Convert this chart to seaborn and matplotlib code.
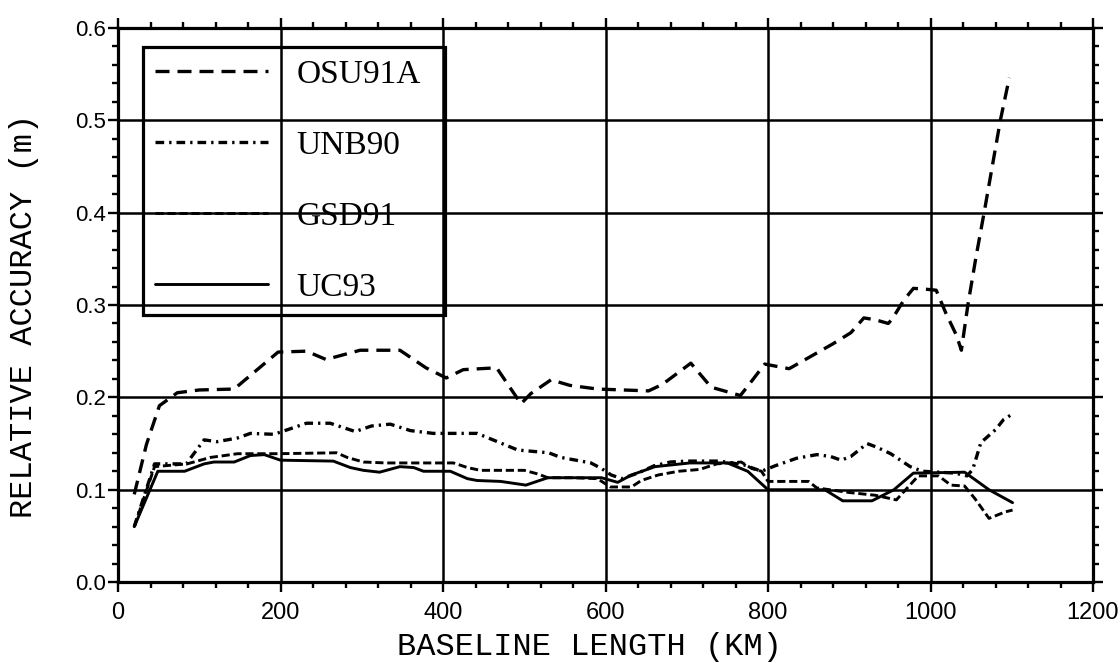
import matplotlib
matplotlib.use("Agg")
import matplotlib.pyplot as plt
from matplotlib.ticker import MultipleLocator, FormatStrFormatter
import seaborn as sns
import pandas as pd

# ---- data ----
osu_km = [20, 35, 51, 73, 100, 143, 197, 232, 256, 298, 347, 379, 404, 425, 466, 496, 508, 533, 556, 590,
          653, 670, 705, 730, 766, 775, 796, 826, 862, 880, 902, 918, 932, 948, 953, 967, 979, 995, 1007,
          1019, 1032, 1038, 1046, 1056, 1066, 1076, 1086, 1097]
osu_acc = [0.095, 0.149, 0.191, 0.205, 0.208, 0.209, 0.249, 0.250, 0.241, 0.251, 0.251, 0.232, 0.221, 0.230,
           0.232, 0.193, 0.204, 0.219, 0.213, 0.209, 0.207, 0.214, 0.237, 0.211, 0.202, 0.212, 0.236, 0.231,
           0.249, 0.258, 0.270, 0.286, 0.284, 0.280, 0.285, 0.305, 0.318, 0.317, 0.316, 0.291, 0.267, 0.251,
           0.300, 0.352, 0.400, 0.450, 0.500, 0.546]

unb_km = [20, 45, 84, 106, 122, 147, 163, 192, 212, 232, 261, 292, 312, 335, 360, 388, 413, 442, 467, 492,
          530, 545, 582, 595, 607, 620, 640, 660, 680, 700, 740, 770, 792, 809, 835, 860, 877, 890, 902, 922,
          934, 951, 963, 975, 990, 1030, 1045, 1052, 1062, 1080, 1090, 1101]
unb_acc = [0.060, 0.128, 0.128, 0.154, 0.152, 0.156, 0.161, 0.160, 0.166, 0.172, 0.172, 0.163, 0.169, 0.171,
           0.164, 0.161, 0.161, 0.161, 0.152, 0.143, 0.140, 0.135, 0.129, 0.123, 0.116, 0.112, 0.118, 0.126,
           0.130, 0.131, 0.131, 0.127, 0.120, 0.126, 0.134, 0.138, 0.136, 0.132, 0.136, 0.150, 0.146, 0.139,
           0.132, 0.125, 0.120, 0.118, 0.115, 0.122, 0.151, 0.165, 0.176, 0.182]

gsd_km = [20, 45, 85, 114, 131, 147, 196, 269, 282, 302, 330, 413, 430, 446, 500, 517, 529, 560, 590, 606,
          632, 644, 665, 690, 716, 737, 767, 780, 792, 800, 850, 860, 900, 932, 958, 985, 1010, 1025, 1042,
          1055, 1072, 1092, 1101]
gsd_acc = [0.060, 0.125, 0.128, 0.135, 0.137, 0.139, 0.139, 0.140, 0.135, 0.130, 0.129, 0.129, 0.124, 0.121,
           0.121, 0.117, 0.113, 0.113, 0.112, 0.103, 0.103, 0.110, 0.116, 0.120, 0.122, 0.128, 0.130, 0.123,
           0.120, 0.109, 0.109, 0.102, 0.097, 0.094, 0.089, 0.115, 0.115, 0.105, 0.104, 0.090, 0.069, 0.076,
           0.078]

uc_km = [20, 49, 82, 106, 118, 143, 163, 180, 200, 265, 286, 302, 322, 347, 364, 376, 409, 430, 442, 471,
         502, 529, 595, 615, 632, 661, 704, 750, 775, 800, 870, 892, 928, 955, 979, 1042, 1072, 1101]
uc_acc = [0.060, 0.120, 0.120, 0.128, 0.130, 0.130, 0.137, 0.138, 0.132, 0.131, 0.124, 0.121, 0.119, 0.125,
          0.124, 0.120, 0.120, 0.112, 0.110, 0.109, 0.105, 0.113, 0.113, 0.108, 0.116, 0.125, 0.129, 0.129,
          0.120, 0.100, 0.100, 0.088, 0.088, 0.100, 0.118, 0.119, 0.100, 0.086]

series_names = ["OSU91A", "UNB90", "GSD91", "UC93"]
x_ticks = [0, 200, 400, 600, 800, 1000, 1200]
y_ticks = [0.0, 0.1, 0.2, 0.3, 0.4, 0.5, 0.6]
x_label = "BASELINE LENGTH (KM)"
y_label = "RELATIVE ACCURACY (m)"

# ---- styling ----
sns.set_theme(style="ticks")
plt.rcParams["font.family"] = ["Liberation Sans", "DejaVu Sans"]

fig = plt.figure(figsize=(11.2, 6.63), dpi=100)
left, right, bottom, top = 118 / 1120, 1093 / 1120, 0.122, 0.958
ax = fig.add_axes([left, bottom, right - left, top - bottom])

data = {
    "OSU91A": (osu_km, osu_acc, dict(lw=2.4, linestyle=(0, (4.2, 2.4)))),
    "UNB90": (unb_km, unb_acc, dict(lw=2.4, linestyle=(0, (2.6, 1.5, 0.7, 1.5)))),
    "GSD91": (gsd_km, gsd_acc, dict(lw=2.1, linestyle=(0, (2.8, 1.3)))),
    "UC93": (uc_km, uc_acc, dict(lw=2.1, linestyle="-")),
}
for name in series_names:
    xs, ys, kw = data[name]
    df = pd.DataFrame({"km": xs, "acc": ys})
    sns.lineplot(data=df, x="km", y="acc", ax=ax, color="black", sort=False,
                 estimator=None, label=name, zorder=3, **kw)

ax.set_xlim(0, 1200)
ax.set_ylim(0, 0.6)
ax.set_xticks(x_ticks)
ax.set_yticks(y_ticks)
ax.xaxis.set_minor_locator(MultipleLocator(40))
ax.yaxis.set_minor_locator(MultipleLocator(0.02))
ax.yaxis.set_major_formatter(FormatStrFormatter("%.1f"))
ax.grid(True, which="major", color="black", lw=1.8)
ax.set_axisbelow(True)
for s in ax.spines.values():
    s.set_linewidth(2.3)
    s.set_color("black")
ax.tick_params(which="both", direction="out", top=True, right=True,
               labeltop=False, labelright=False, color="black", width=1.7)
ax.tick_params(which="major", length=7)
ax.tick_params(which="minor", length=4.5)
ax.tick_params(axis="x", which="major", labelsize=17, pad=7, labelcolor="black")
ax.tick_params(axis="y", which="major", labelsize=16, pad=1.5, labelcolor="black")

mono = ["Liberation Mono", "DejaVu Sans Mono"]
ax.set_xlabel(x_label, family=mono, fontsize=23, color="black")
ax.set_ylabel(y_label, family=mono, fontsize=23, color="black")
ax.xaxis.label.set_verticalalignment("baseline")
ax.yaxis.label.set_verticalalignment("baseline")
ax.xaxis.set_label_coords(0.484, -0.131)
ax.yaxis.set_label_coords(-0.088, 0.48)

ax_w = (right - left) * 1120
ax_h = (top - bottom) * 663
leg_x0 = (143 - 118) / ax_w
leg_w = (445 - 143) / ax_w
leg_top = (582 - 47) / ax_h
leg = ax.legend(loc="upper left", bbox_to_anchor=(leg_x0, 0.0, leg_w, leg_top), mode="expand",
                borderaxespad=0, prop={"family": ["Liberation Serif", "DejaVu Serif"], "size": 24},
                handlelength=3.4, handletextpad=0.85, labelspacing=1.22, borderpad=0.36,
                frameon=True, fancybox=False)
frame = leg.get_frame()
frame.set_facecolor("none")
frame.set_edgecolor("black")
frame.set_linewidth(2.3)
frame.set_alpha(None)
for t in leg.get_texts():
    t.set_color("black")

fig.savefig("out.png", dpi=100)
